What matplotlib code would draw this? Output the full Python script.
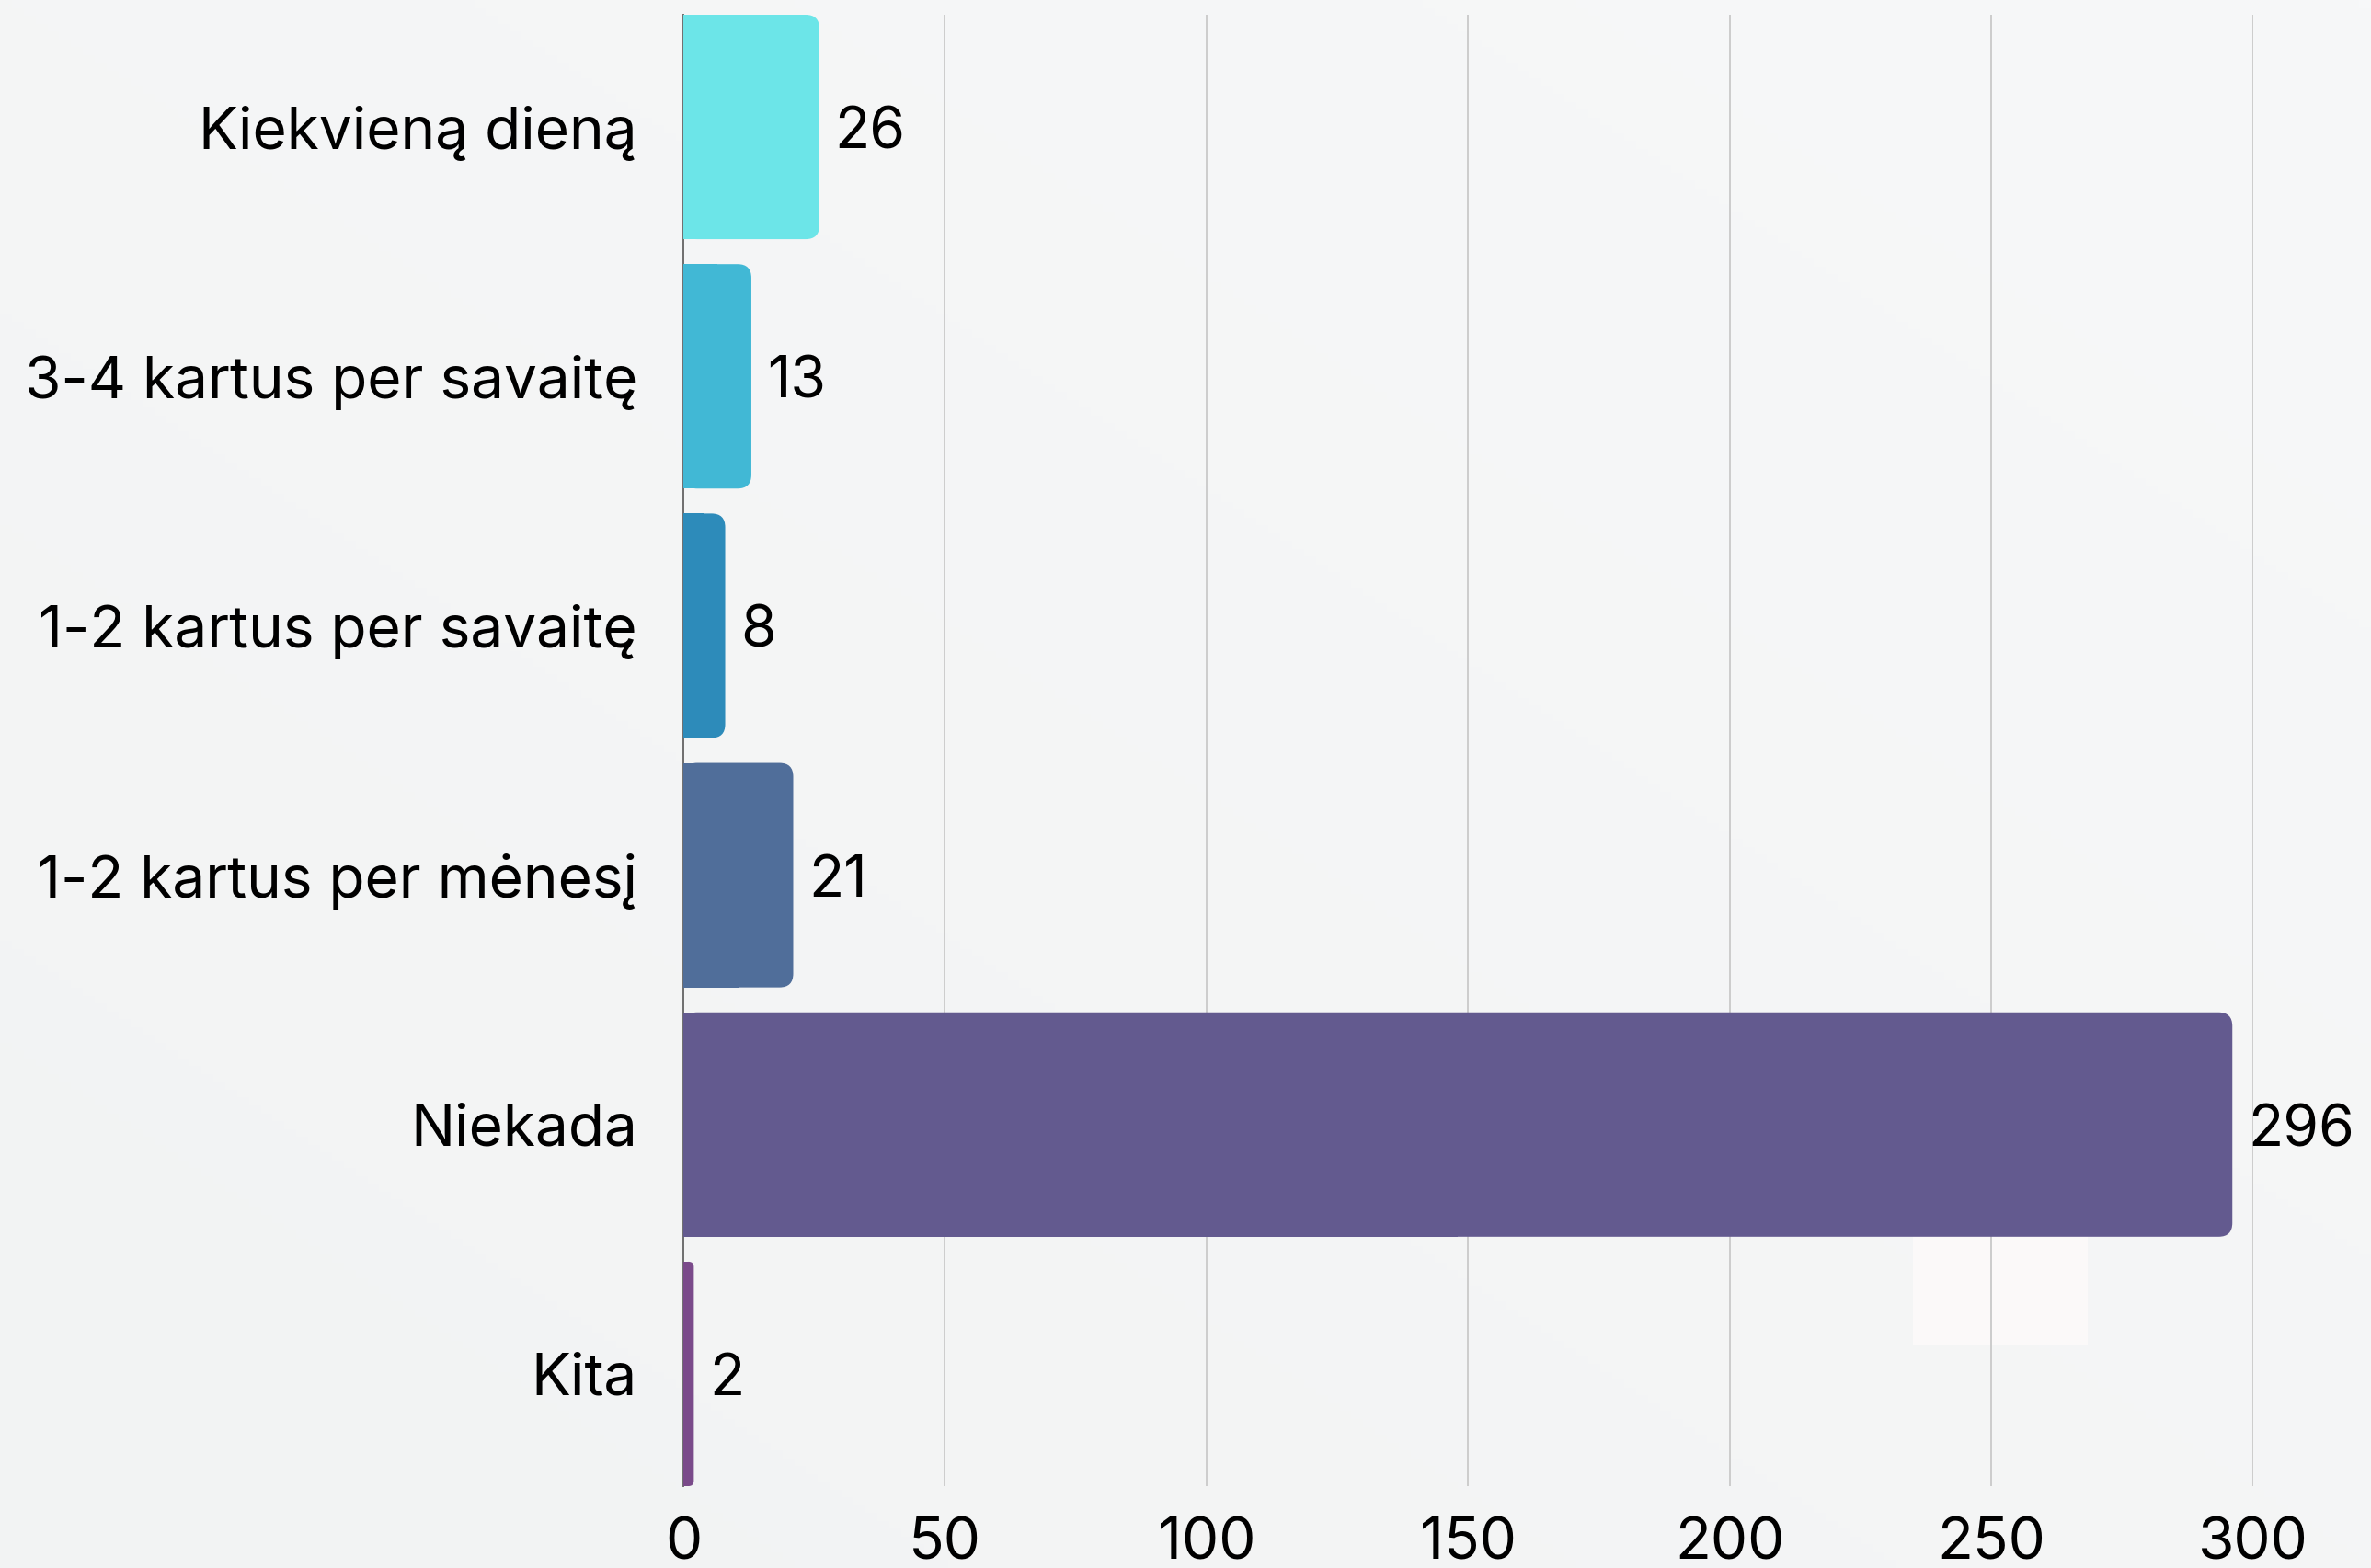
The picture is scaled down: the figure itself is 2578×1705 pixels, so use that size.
import matplotlib
matplotlib.use("Agg")
import matplotlib.pyplot as plt
from matplotlib.patches import FancyBboxPatch, Rectangle
import numpy as np

categories = ["Kiekvieną dieną", "3-4 kartus per savaitę", "1-2 kartus per savaitę",
              "1-2 kartus per mėnesį", "Niekada", "Kita"]
values = [26, 13, 8, 21, 296, 2]
colors = ["#6CE5E8", "#41B8D5", "#2D8BBA", "#506E9A", "#635A8F", "#7A4A8A"]
xticks = [0, 50, 100, 150, 200, 250, 300]

plt.rcParams['font.family'] = ['Inter', 'DejaVu Sans']

W, H = 2578, 1705
fig = plt.figure(figsize=(W / 100, H / 100), dpi=100)
fig.patch.set_facecolor("#F4F5F6")

# subtle background gradient
bg = fig.add_axes([0, 0, 1, 1], zorder=-10)
gx, gy = np.meshgrid(np.linspace(0, 1, 200), np.linspace(0, 1, 200))
g = (gx + (1 - gy)) / 2
c0 = np.array([0xF2, 0xF3, 0xF3]) / 255
c1 = np.array([0xF7, 0xF8, 0xF9]) / 255
img = c0[None, None, :] * (1 - g[..., None]) + c1[None, None, :] * g[..., None]
bg.imshow(img, extent=[0, 1, 0, 1], aspect='auto', origin='upper')
bg.add_patch(Rectangle((2080 / W, 1 - 1463 / H), 190 / W, 120 / H, color="#FBF9F9", lw=0))
bg.set_xlim(0, 1)
bg.set_ylim(0, 1)
bg.axis('off')

ax_left, ax_right = 743, 2450
ax_bottom_px, ax_top_px = 1616, 16
ax = fig.add_axes([ax_left / W, 1 - ax_bottom_px / H, (ax_right - ax_left) / W,
                   (ax_bottom_px - ax_top_px) / H])
ax.set_facecolor("none")

n = len(values)
bh = 0.9
ax.set_xlim(0, 300)
ax.set_ylim(n - 1 + bh / 2, -bh / 2)

px_x = (ax_right - ax_left) / 300
px_y = (ax_bottom_px - ax_top_px) / (n - 1 + bh)
rad_px = 15
rx = rad_px / px_x
asp = (rad_px / px_y) / rx

ypos = np.arange(n)
for y, v, c in zip(ypos, values, colors):
    r = min(rx, v / 2)
    ax.add_patch(FancyBboxPatch((0, y - bh / 2), v, bh,
                                boxstyle=f"round,pad=0,rounding_size={r}",
                                mutation_aspect=asp, fc=c, ec="none", zorder=3))
    ax.add_patch(Rectangle((0, y - bh / 2), v / 2, bh, fc=c, ec="none", zorder=3))
    ax.annotate(str(v), (v, y), xytext=(12, -5), textcoords="offset points",
                ha="left", va="center", fontsize=45, color="#000000",
                annotation_clip=False, zorder=4)

ax.set_yticks(ypos)
ax.set_yticklabels(categories, fontsize=46)
ax.set_xticks(xticks)
ax.set_xticklabels([str(t) for t in xticks], fontsize=46)
ax.tick_params(axis='y', length=0, pad=36)
ax.tick_params(axis='x', length=0, pad=24)

ax.grid(axis='x', color="#C9C9C9", lw=1.3, zorder=1)
ax.set_axisbelow(True)
for s in ["top", "right", "bottom"]:
    ax.spines[s].set_visible(False)
ax.spines["left"].set_color("#6E6E6E")
ax.spines["left"].set_linewidth(1.4)
ax.spines["left"].set_zorder(2)

fig.savefig("out.png", dpi=100, facecolor=fig.get_facecolor())
